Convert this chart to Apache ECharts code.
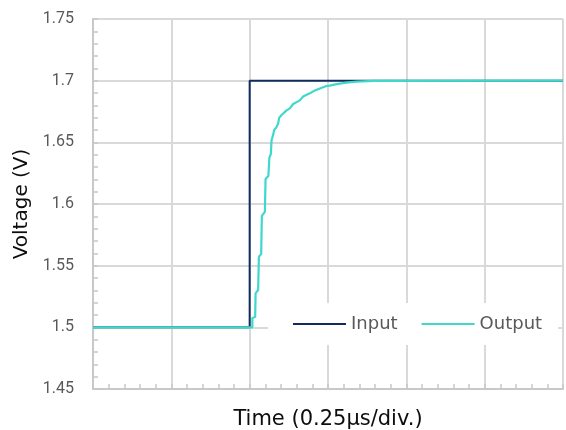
<!DOCTYPE html>
<html>
<head>
<meta charset="utf-8">
<script src="https://cdn.jsdelivr.net/npm/echarts@6/dist/echarts.min.js"></script>
<style>
html,body{margin:0;padding:0;background:#fff;}
#chart{width:566px;height:430px;}
</style>
</head>
<body>
<div id="chart"></div>
<script>
// Time in µs (0.25 µs per division), voltage in V
const xTicks = { min: 0, max: 1.5, interval: 0.25 };
const yTicks = { min: 1.45, max: 1.75, interval: 0.05 };

const inputTime = [0, 0.5, 0.5, 1.5];
const inputVolt = [1.5, 1.5, 1.7, 1.7];

const outputTime = [0, 0.5086, 0.5086, 0.5176, 0.5189, 0.5271, 0.5294, 0.5367, 0.5389, 0.5485,
  0.5507, 0.5597, 0.5629, 0.5676, 0.5699, 0.5750, 0.5782, 0.5852, 0.5909, 0.5941,
  0.6018, 0.6177, 0.6282, 0.6388, 0.6601, 0.6706, 0.6920, 0.7080, 0.7239, 0.7453,
  0.7558, 0.7772, 0.8091, 0.8410, 0.8993, 1.5];
const outputVolt = [1.5, 1.5, 1.5076, 1.5084, 1.5275, 1.5303, 1.5571, 1.5595, 1.5903, 1.5936,
  1.6203, 1.6227, 1.6373, 1.6406, 1.6519, 1.6560, 1.6600, 1.6621, 1.6653, 1.6698,
  1.6722, 1.6759, 1.6775, 1.6811, 1.6840, 1.6872, 1.6897, 1.6921, 1.6937, 1.6957,
  1.6960, 1.6972, 1.6984, 1.6992, 1.6998, 1.7];

const seriesNames = ['Input', 'Output'];
const seriesColors = ['#0f2d5c', '#40d7cc'];

const zip = (a, b) => a.map((v, i) => [v, b[i]]);

const chart = echarts.init(document.getElementById('chart'));
const font = 'Roboto, "Noto Sans", sans-serif';
const wideFont = '"DejaVu Sans", sans-serif';
const gridColor = '#d9d9d9';

chart.setOption({
  animation: false,
  backgroundColor: '#fff',
  grid: { left: 93, right: 3, top: 19, bottom: 41, containLabel: false, outerBoundsMode: 'none' },
  legend: {
    data: seriesNames,
    left: 268, top: 303,
    padding: [12, 16, 12, 25],
    backgroundColor: '#fff',
    icon: 'rect',
    itemWidth: 53, itemHeight: 2, itemGap: 24,
    textStyle: { fontFamily: wideFont, fontSize: 18, color: '#595959', lineHeight: 18 }
  },
  xAxis: {
    type: 'value',
    min: xTicks.min, max: xTicks.max, interval: xTicks.interval,
    name: 'Time (0.25µs/div.)',
    nameLocation: 'middle', nameGap: 20,
    nameTextStyle: { fontFamily: wideFont, fontSize: 21, color: '#0d0d0d' },
    axisLine: { show: true, lineStyle: { color: '#c8c8c8', width: 2 } },
    axisTick: { show: true, inside: true, length: 5, lineStyle: { color: '#c8c8c8', width: 1.5 } },
    minorTick: { show: true, splitNumber: 5, length: 5, lineStyle: { color: '#c8c8c8', width: 1.5 } },
    axisLabel: { show: false },
    splitLine: { show: true, lineStyle: { color: gridColor, width: 2 } }
  },
  yAxis: {
    type: 'value',
    min: yTicks.min, max: yTicks.max, interval: yTicks.interval,
    name: 'Voltage (V)',
    nameLocation: 'middle', nameGap: 58,
    nameTextStyle: { fontFamily: wideFont, fontSize: 20, color: '#0d0d0d' },
    axisLine: { show: true, lineStyle: { color: '#c8c8c8', width: 2 } },
    axisTick: { show: true, inside: true, length: 5, lineStyle: { color: '#c8c8c8', width: 1.5 } },
    minorTick: { show: true, splitNumber: 5, length: 5, lineStyle: { color: '#c8c8c8', width: 1.5 } },
    axisLabel: { margin: 19, fontFamily: font, fontSize: 16, color: '#595959' },
    splitLine: { show: true, lineStyle: { color: gridColor, width: 2 } }
  },
  series: [
    {
      name: seriesNames[0], type: 'line', symbol: 'none',
      data: zip(inputTime, inputVolt),
      lineStyle: { color: seriesColors[0], width: 2 },
      itemStyle: { color: seriesColors[0] }
    },
    {
      name: seriesNames[1], type: 'line', symbol: 'none',
      data: zip(outputTime, outputVolt),
      lineStyle: { color: seriesColors[1], width: 2.2 },
      itemStyle: { color: seriesColors[1] }
    }
  ]
});
</script>
</body>
</html>
